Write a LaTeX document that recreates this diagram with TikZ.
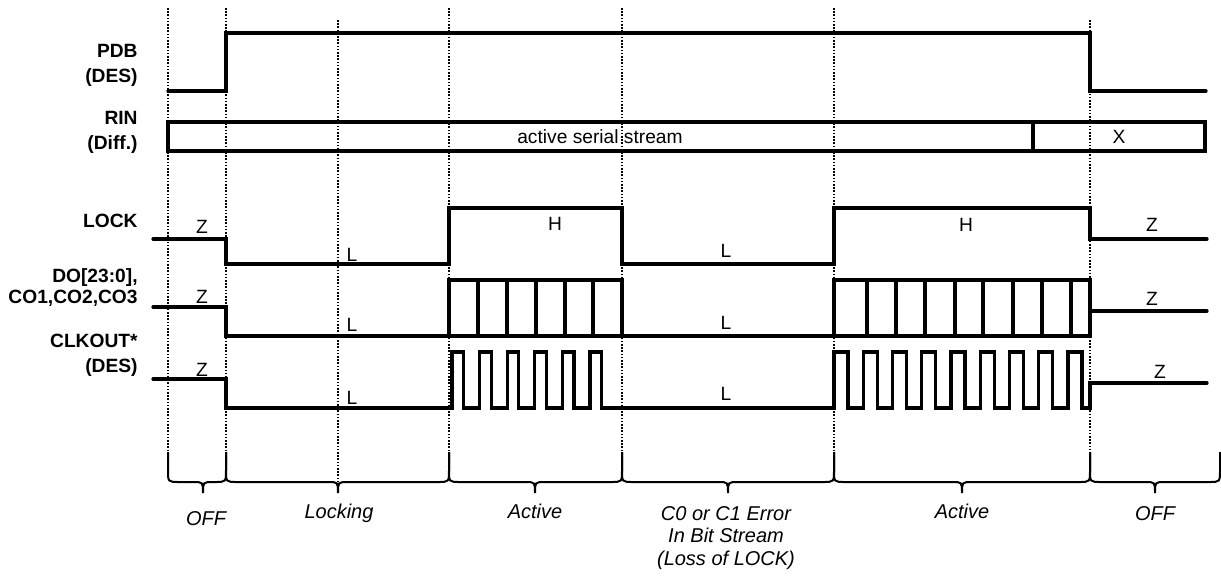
\documentclass[tikz,border=0pt]{standalone}
\usepackage{fontspec}
\setmainfont{Liberation Sans}
\usepackage{tikz}

\begin{document}
\begin{tikzpicture}[x=0.5pt, y=-0.5pt]
    \tikzstyle{sig} = [line width=1.6pt, line cap=round, line join=miter]
    \tikzstyle{guide} = [line width=0.6pt, dash pattern=on 0.8pt off 0.8pt]
    \tikzstyle{brc} = [line width=1pt]
    \tikzstyle{signame} = [anchor=east, align=right, inner sep=0pt, font=\bfseries\fontsize{9.6}{12.5}\selectfont]
    \tikzstyle{lvl} = [inner sep=0pt, font=\fontsize{9.6}{11}\selectfont]
    \tikzstyle{phase} = [anchor=north, align=center, inner sep=0pt, font=\itshape\fontsize{10}{11.3}\selectfont]

    \useasboundingbox (0,0) rectangle (1221,575);

    % Time markers
    \foreach \x in {168,226,449,622,834} \draw[guide] (\x,8) -- (\x,452);
    \draw[guide] (338,20) -- (338,493);
    \draw[guide] (1090,20) -- (1090,452);

    % Signal names
    \node[signame] (pdb) at (138,65.5) {PDB\\(DES)};
    \node[signame] (rin) at (138,132.5) {RIN\\(Diff.)};
    \node[signame] (lock) at (138,221) {LOCK};
    \node[signame] (dout) at (138,287.5) {DO[23:0],\\[-2pt]CO1,CO2,CO3};
    \node[signame] (clk) at (138,355) {CLKOUT*\\(DES)};

    % PDB
    \draw[sig] (168,91) -- (226,91) -- (226,33) -- (1090,33) -- (1090,91) -- (1206,91);

    % RIN
    \draw[sig] (168,122) rectangle (1205,151);
    \draw[sig] (1033,122) -- (1033,151);
    \node[lvl] (stream) at (600,137) {active serial stream};
    \node[lvl] (rinx) at (1119,137) {X};

    % LOCK
    \draw[sig] (153,239) -- (226,239) -- (226,264) -- (449,264) -- (449,208) -- (622,208)
        -- (622,264) -- (834,264) -- (834,208) -- (1090,208) -- (1090,239) -- (1207,239);
    \node[lvl] (lockz1) at (202,227) {Z};
    \node[lvl] (lockl1) at (352,255) {L};
    \node[lvl] (lockh1) at (555,224) {H};
    \node[lvl] (lockl2) at (726,251) {L};
    \node[lvl] (lockh2) at (966,225) {H};
    \node[lvl] (lockz2) at (1152,225) {Z};

    % DO / CO bus
    \draw[sig] (153,307) -- (226,307) -- (226,336) -- (449,336);
    \draw[sig] (449,280) rectangle (622,336);
    \foreach \x in {478,507,536,565,593} \draw[sig] (\x,280) -- (\x,336);
    \draw[sig] (622,336) -- (834,336);
    \draw[sig] (834,280) rectangle (1090,336);
    \foreach \x in {867,896,925,955,983,1013,1042,1071} \draw[sig] (\x,280) -- (\x,336);
    \draw[sig] (1090,311) -- (1207,311);
    \node[lvl] (doz1) at (202,297) {Z};
    \node[lvl] (dol1) at (352,325) {L};
    \node[lvl] (dol2) at (726,323) {L};
    \node[lvl] (doz2) at (1152,299) {Z};

    % CLKOUT
    \draw[sig] (153,379) -- (226,379) -- (226,408) -- (452,408)
        \foreach \i in {0,...,5} { -- ({452+27.6*\i},408) -- ({452+27.6*\i},352)
            -- ({463.5+27.6*\i},352) -- ({463.5+27.6*\i},408) }
        -- (834,408)
        \foreach \i in {0,...,8} { -- ({834+29.25*\i},408) -- ({834+29.25*\i},352)
            -- ({848+29.25*\i},352) -- ({848+29.25*\i},408) }
        -- (1090,408) -- (1090,383) -- (1207,383);
    \node[lvl] (clkz1) at (202,370) {Z};
    \node[lvl] (clkl1) at (352,398) {L};
    \node[lvl] (clkl2) at (726,394) {L};
    \node[lvl] (clkz2) at (1160,372) {Z};

    % Phase braces
    \foreach \a/\m/\b in {168/203/226, 226/338/449, 449/535/622, 622/728/834, 834/962/1090, 1090/1155/1220} {
        \draw[brc] (\a,452) -- (\a,470) .. controls (\a,482) .. (\a+11,482) -- (\m-10,482)
            .. controls (\m,482) .. (\m,493) .. controls (\m,482) .. (\m+10,482)
            -- (\b-11,482) .. controls (\b,482) .. (\b,470) -- (\b,452);
    }
    \node[phase] (off1) at (206,511) {OFF};
    \node[phase] (locking) at (339,504) {Locking};
    \node[phase] (active1) at (535,504) {Active};
    \node[phase] (error) at (726,506) {C0 or C1 Error\\In Bit Stream\\(Loss of LOCK)};
    \node[phase] (active2) at (962,504) {Active};
    \node[phase] (off2) at (1155,506) {OFF};
\end{tikzpicture}
\end{document}
